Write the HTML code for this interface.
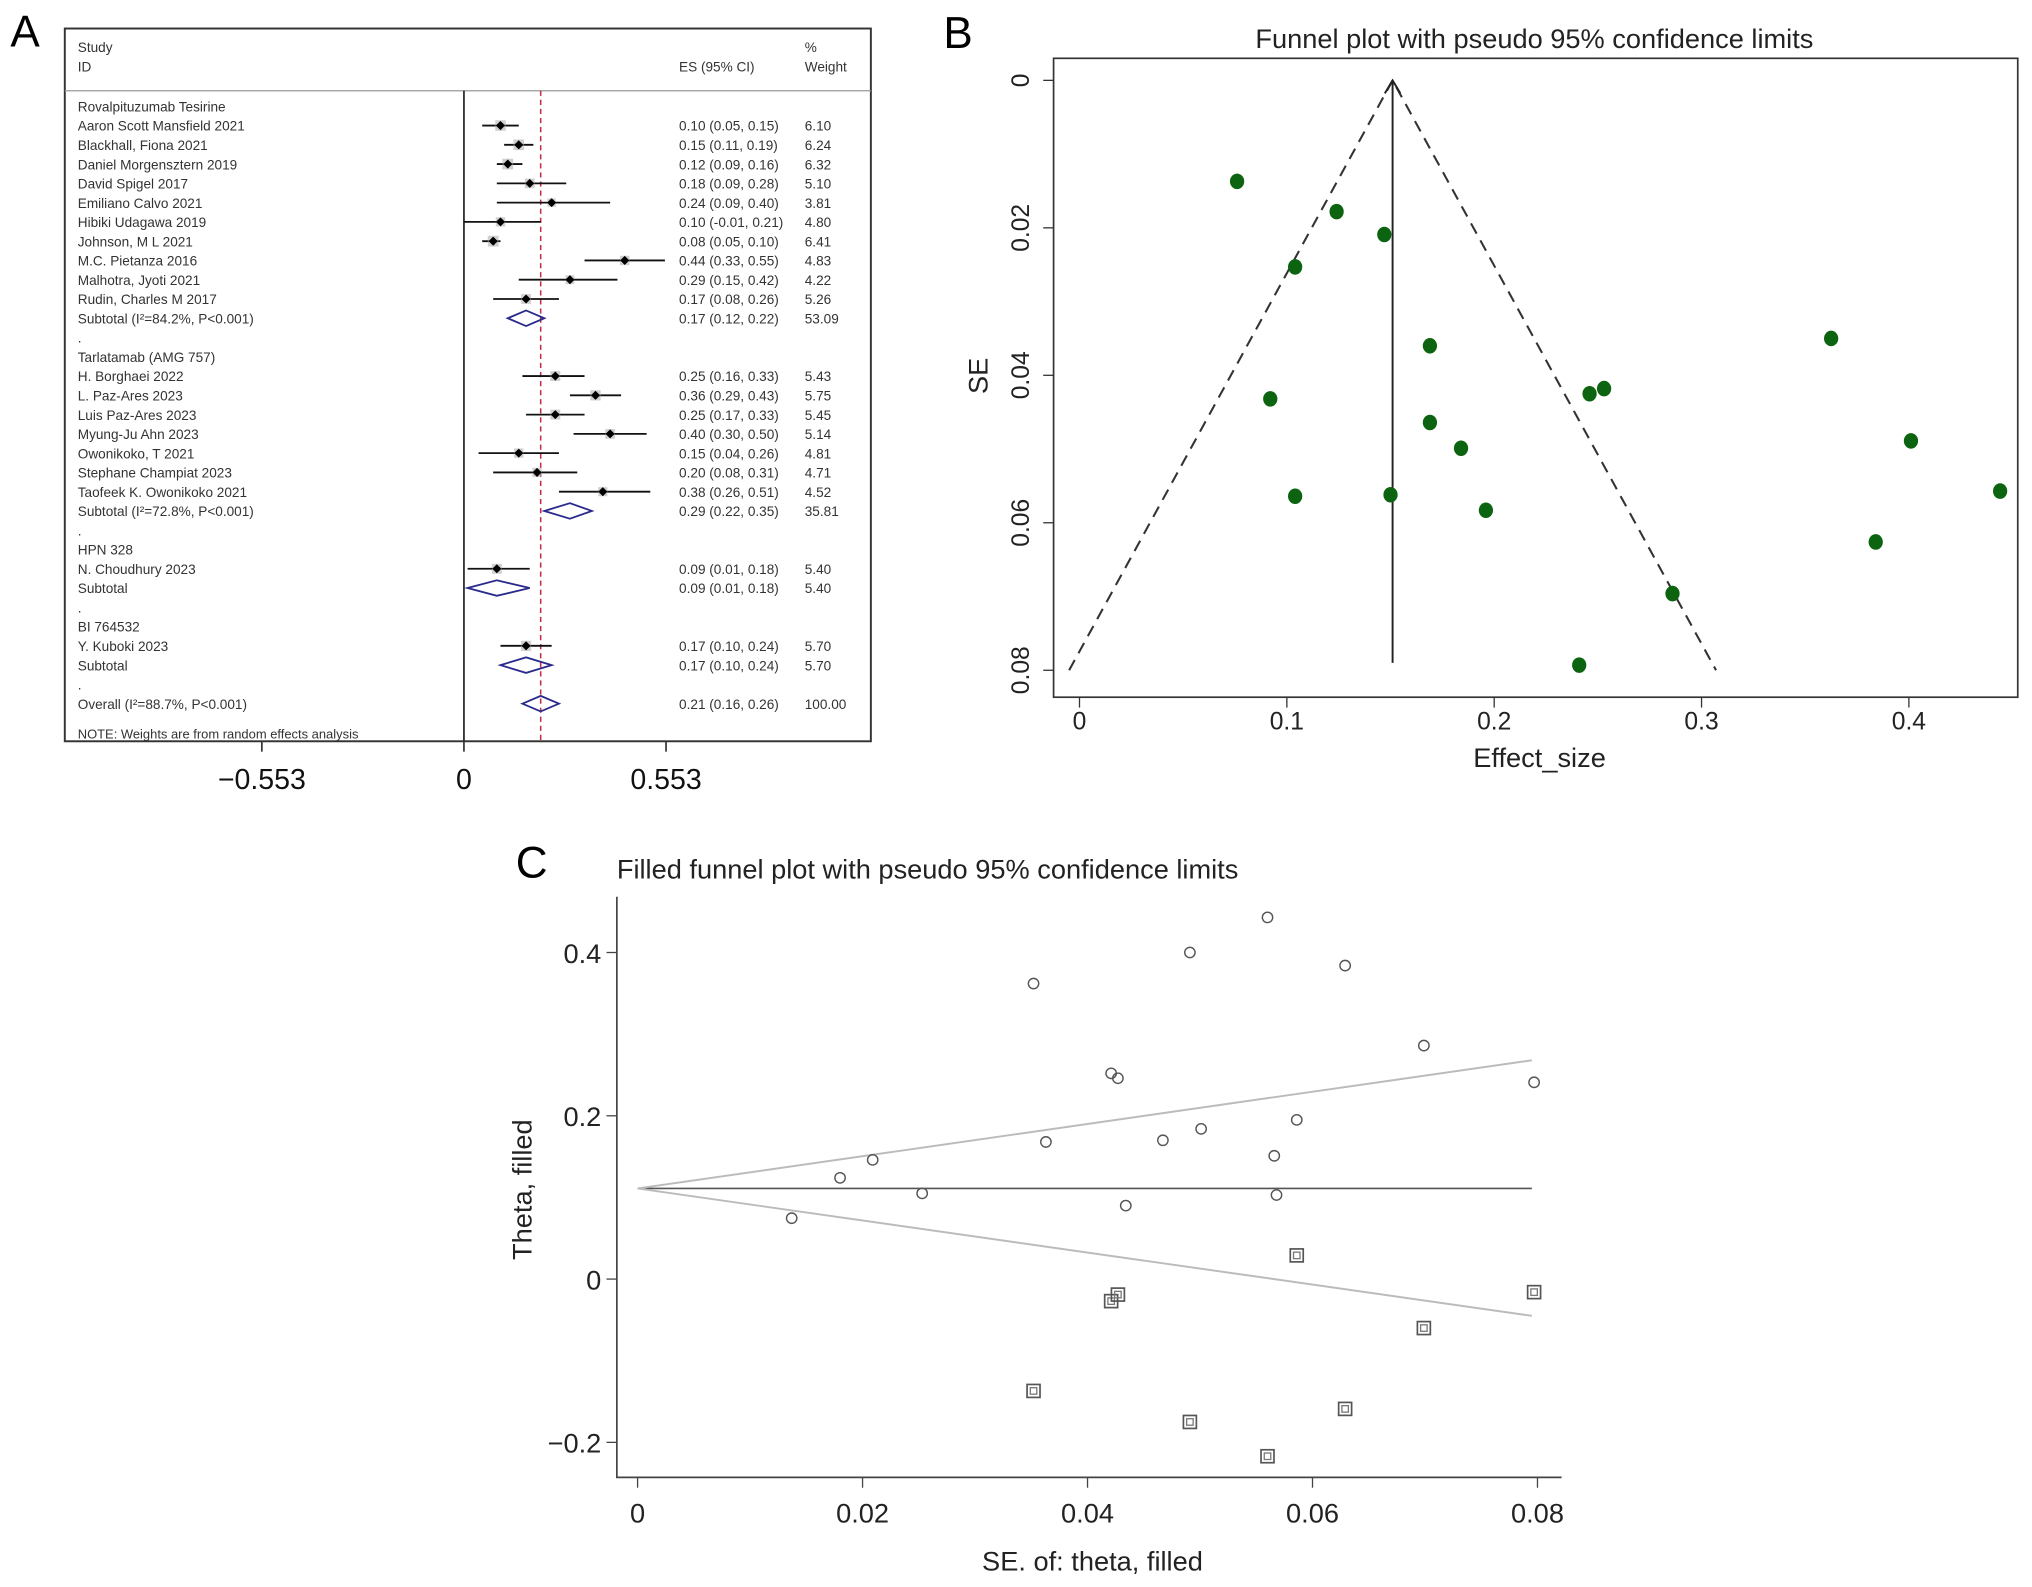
<!DOCTYPE html>
<html><head><meta charset="utf-8"><style>
html,body{margin:0;padding:0;background:#fff}
svg{display:block}
text{font-family:"Liberation Sans",sans-serif}
</style></head><body>
<svg id="fig" width="2032" height="1587" viewBox="0 0 1568 1224.6" xmlns="http://www.w3.org/2000/svg">
<g id="pa"></g>
<g id="pb"></g>
<g id="pc"></g>
</svg>
<script>
// ---------- Panel A data ----------
const rowLabels=["Rovalpituzumab Tesirine","Aaron Scott Mansfield 2021","Blackhall, Fiona 2021","Daniel Morgensztern 2019","David Spigel 2017","Emiliano Calvo 2021","Hibiki Udagawa 2019","Johnson, M L 2021","M.C. Pietanza 2016","Malhotra, Jyoti 2021","Rudin, Charles M 2017","Subtotal  (I\u00B2=84.2%, P<0.001)",".","Tarlatamab (AMG 757)","H. Borghaei 2022","L. Paz-Ares 2023","Luis Paz-Ares 2023","Myung-Ju Ahn 2023","Owonikoko, T 2021","Stephane Champiat 2023","Taofeek K. Owonikoko 2021","Subtotal  (I\u00B2=72.8%, P<0.001)",".","HPN 328","N. Choudhury 2023","Subtotal",".","BI 764532","Y. Kuboki 2023","Subtotal",".","Overall  (I\u00B2=88.7%, P<0.001)"];
const rowTypes=["h","s","s","s","s","s","s","s","s","s","s","d","b","h","s","s","s","s","s","s","s","d","b","h","s","d","b","h","s","d","b","d"];
const esVals=[null,0.10,0.15,0.12,0.18,0.24,0.10,0.08,0.44,0.29,0.17,0.17,null,null,0.25,0.36,0.25,0.40,0.15,0.20,0.38,0.29,null,null,0.09,0.09,null,null,0.17,0.17,null,0.21];
const loVals=[null,0.05,0.11,0.09,0.09,0.09,-0.01,0.05,0.33,0.15,0.08,0.12,null,null,0.16,0.29,0.17,0.30,0.04,0.08,0.26,0.22,null,null,0.01,0.01,null,null,0.10,0.10,null,0.16];
const hiVals=[null,0.15,0.19,0.16,0.28,0.40,0.21,0.10,0.55,0.42,0.26,0.22,null,null,0.33,0.43,0.33,0.50,0.26,0.31,0.51,0.35,null,null,0.18,0.18,null,null,0.24,0.24,null,0.26];
const weights=[null,6.10,6.24,6.32,5.10,3.81,4.80,6.41,4.83,4.22,5.26,53.09,null,null,5.43,5.75,5.45,5.14,4.81,4.71,4.52,35.81,null,null,5.40,5.40,null,null,5.70,5.70,null,100.00];
const forestTicks=[-0.553,0,0.553];
const pooledES=0.21;
// ---------- Panel B data ----------
const effectSize=[0.076,0.124,0.147,0.104,0.169,0.092,0.169,0.184,0.104,0.150,0.196,0.246,0.253,0.3625,0.401,0.444,0.384,0.286,0.241];
const seVals=[0.0137,0.0178,0.0209,0.0253,0.036,0.0432,0.0464,0.0499,0.0564,0.0562,0.0583,0.0425,0.0418,0.035,0.0489,0.0557,0.0626,0.0696,0.0793];
const bXTicks=[0,0.1,0.2,0.3,0.4];
const bYTicks=[0,0.02,0.04,0.06,0.08];
const bCenter=0.151;
// ---------- Panel C data ----------
const obsSE=[0.0137,0.018,0.0209,0.0253,0.0352,0.0363,0.0421,0.0427,0.0434,0.0467,0.0491,0.0501,0.056,0.0566,0.0568,0.0586,0.0629,0.0699,0.0797];
const obsTheta=[0.0746,0.124,0.146,0.105,0.362,0.168,0.252,0.246,0.090,0.170,0.400,0.184,0.443,0.151,0.103,0.195,0.384,0.286,0.241];
const fillSE=[0.0352,0.0421,0.0427,0.0491,0.056,0.0586,0.0629,0.0699,0.0797];
const fillTheta=[-0.137,-0.027,-0.019,-0.175,-0.217,0.029,-0.159,-0.060,-0.016];
const cXTicks=[0,0.02,0.04,0.06,0.08];
const cYTicks=[0.4,0.2,0,-0.2];
const cTheta=0.111;
const cUpperEnd=0.268, cLowerEnd=-0.045, cSEmax=0.0795;

const NS="http://www.w3.org/2000/svg";
function mk(parent,tag,attrs,txt){const e=document.createElementNS(NS,tag);for(const k in attrs)e.setAttribute(k,attrs[k]);if(txt!==undefined)e.textContent=txt;parent.appendChild(e);return e;}

// ===== Panel A =====
const pa=document.getElementById('pa');
const fx=v=>358+v*282;
const fy=i=>82+i*14.87;
let t;
t=mk(pa,'text',{x:8,y:36,'font-size':34});t.textContent='A';


let r=mk(pa,'rect',{x:50,y:22,width:622,height:550,fill:'none',stroke:'#333','stroke-width':1.5});


mk(pa,'line',{x1:50,x2:672,y1:70,y2:70,stroke:'#999','stroke-width':1});
const hdr=[[60,40,'Study'],[60,55,'ID'],[524,55,'ES (95% CI)'],[621,40,'%'],[621,55,'Weight']];
hdr.forEach(h=>{const e=mk(pa,'text',{x:h[0],y:h[1],'font-size':10.5,fill:'#333'},h[2]);

});
// zero line and pooled dashed line
let zl=mk(pa,'line',{x1:fx(0),x2:fx(0),y1:70,y2:572,stroke:'#222','stroke-width':1.3});


let pl=mk(pa,'line',{x1:fx(pooledES),x2:fx(pooledES),y1:70,y2:572,stroke:'#c0304a','stroke-width':1.2,'stroke-dasharray':'4,3'});


rowLabels.forEach((lab,i)=>{
  const y=fy(i);
  const e=mk(pa,'text',{x:60,y:y+4,'font-size':10.5,fill:'#333'},lab);
  
  
  const tp=rowTypes[i];
  if(tp==='s'||tp==='d'){
    const es=esVals[i],lo=loVals[i],hi=hiVals[i];
    const ci=mk(pa,'text',{x:524,y:y+4,'font-size':10.5,fill:'#333'},es.toFixed(2)+' ('+lo.toFixed(2)+', '+hi.toFixed(2)+')');
    
    
    const w=mk(pa,'text',{x:621,y:y+4,'font-size':10.5,fill:'#333'},weights[i].toFixed(2));
    
    
  }
  if(tp==='s'){
    const es=esVals[i],lo=loVals[i],hi=hiVals[i];
    const g=mk(pa,'g',{});
    
    
    mk(g,'line',{x1:fx(Math.max(lo,-0.001)),x2:fx(hi),y1:y,y2:y,stroke:'#111','stroke-width':1.4});
    const s=Math.sqrt(weights[i])*3.3;
    mk(g,'rect',{x:fx(es)-s/2,y:y-s/2,width:s,height:s,fill:'#aaa',opacity:0.55});
    mk(g,'path',{d:`M${fx(es)-3.5},${y}L${fx(es)},${y-3.5}L${fx(es)+3.5},${y}L${fx(es)},${y+3.5}Z`,fill:'#000'});
  }
  if(tp==='d'){
    const es=esVals[i],lo=loVals[i],hi=hiVals[i];
    const d=mk(pa,'path',{d:`M${fx(lo)},${y}L${fx(es)},${y-6}L${fx(hi)},${y}L${fx(es)},${y+6}Z`,fill:'none',stroke:'#2a2a8c','stroke-width':1.4});
    
    
  }
});
let note=mk(pa,'text',{x:60,y:570,'font-size':10,fill:'#333'},'NOTE: Weights are from random effects analysis');


forestTicks.forEach(v=>{
  mk(pa,'line',{x1:fx(v),x2:fx(v),y1:572,y2:580,stroke:'#333','stroke-width':1.3});
  const e=mk(pa,'text',{x:fx(v),y:609,'font-size':22,'text-anchor':'middle',fill:'#111'},v===0?'0':(v<0?'\u2212':'')+Math.abs(v).toFixed(3));
  
  
});

// ===== Panel B =====
const pb=document.getElementById('pb');
const bx=v=>833+v*1600;
const by=v=>62+v*5690;
t=mk(pb,'text',{x:728,y:37,'font-size':34},'B');


t=mk(pb,'text',{x:1184,y:37,'font-size':21,'text-anchor':'middle',fill:'#222'},'Funnel plot with pseudo 95% confidence limits');


r=mk(pb,'rect',{x:813,y:45,width:744,height:493,fill:'none',stroke:'#333','stroke-width':1.3});


bXTicks.forEach(v=>{mk(pb,'line',{x1:bx(v),x2:bx(v),y1:538,y2:546,stroke:'#333'});
  const e=mk(pb,'text',{x:bx(v),y:563,'font-size':19,'text-anchor':'middle',fill:'#222'},String(v));
  
  });
bYTicks.forEach(v=>{mk(pb,'line',{x1:805,x2:813,y1:by(v),y2:by(v),stroke:'#333'});
  const e=mk(pb,'text',{x:0,y:0,'font-size':19,'text-anchor':'middle',fill:'#222',transform:`translate(794,${by(v)}) rotate(-90)`},String(v));
  
  });
t=mk(pb,'text',{x:1188,y:592,'font-size':21,'text-anchor':'middle',fill:'#222'},'Effect_size');


t=mk(pb,'text',{x:0,y:0,'font-size':21,'text-anchor':'middle',fill:'#222',transform:'translate(762,290) rotate(-90)'},'SE');


let fl=mk(pb,'path',{d:`M${bx(-0.005)},${by(0.08)}L${bx(bCenter)},${by(0)}L${bx(0.307)},${by(0.08)}`,fill:'none',stroke:'#333','stroke-width':1.6,'stroke-dasharray':'9,6'});


let cl=mk(pb,'g',{});


mk(cl,'line',{x1:bx(bCenter),x2:bx(bCenter),y1:by(0),y2:by(0.079),stroke:'#222','stroke-width':1.5});
mk(cl,'path',{d:`M${bx(bCenter)-6},${by(0)+10}L${bx(bCenter)},${by(0)}L${bx(bCenter)+6},${by(0)+10}`,fill:'none',stroke:'#222','stroke-width':1.5});
effectSize.forEach((v,i)=>{
  const c=mk(pb,'ellipse',{cx:bx(v),cy:by(seVals[i]),rx:5.5,ry:6,fill:'#0d6410'});
  
  
});

// ===== Panel C =====
const pc=document.getElementById('pc');
const cx=v=>492+v*8680;
const cy=v=>987-v*630;
t=mk(pc,'text',{x:398,y:677,'font-size':34},'C');


t=mk(pc,'text',{x:476,y:678,'font-size':21,fill:'#222'},'Filled funnel plot with pseudo 95% confidence limits');


let ax=mk(pc,'path',{d:'M476,692L476,1140L1205,1140',fill:'none',stroke:'#444','stroke-width':1.3});


cXTicks.forEach(v=>{mk(pc,'line',{x1:cx(v),x2:cx(v),y1:1140,y2:1148,stroke:'#444'});
  const e=mk(pc,'text',{x:cx(v),y:1175,'font-size':21,'text-anchor':'middle',fill:'#222'},String(v));
  
  });
cYTicks.forEach(v=>{mk(pc,'line',{x1:468,x2:476,y1:cy(v),y2:cy(v),stroke:'#444'});
  const e=mk(pc,'text',{x:464,y:cy(v)+8,'font-size':21,'text-anchor':'end',fill:'#222'},v<0?'\u2212'+Math.abs(v):String(v));
  
  });
t=mk(pc,'text',{x:843,y:1212,'font-size':21,'text-anchor':'middle',fill:'#222'},'SE. of: theta, filled');


t=mk(pc,'text',{x:0,y:0,'font-size':21,'text-anchor':'middle',fill:'#222',transform:'translate(410,918) rotate(-90)'},'Theta, filled');


let hl=mk(pc,'line',{x1:cx(0),x2:cx(cSEmax),y1:cy(cTheta),y2:cy(cTheta),stroke:'#555','stroke-width':1.3});


let ul=mk(pc,'line',{x1:cx(0),x2:cx(cSEmax),y1:cy(cTheta),y2:cy(cUpperEnd),stroke:'#bbb','stroke-width':1.5});


let ll=mk(pc,'line',{x1:cx(0),x2:cx(cSEmax),y1:cy(cTheta),y2:cy(cLowerEnd),stroke:'#bbb','stroke-width':1.5});


obsSE.forEach((v,i)=>{
  const c=mk(pc,'circle',{cx:cx(v),cy:cy(obsTheta[i]),r:4,fill:'none',stroke:'#555','stroke-width':1.1});
  
  
});
fillSE.forEach((v,i)=>{
  const g=mk(pc,'g',{});
  
  
  mk(g,'rect',{x:cx(v)-5,y:cy(fillTheta[i])-5,width:10,height:10,fill:'none',stroke:'#555','stroke-width':1.3});
  mk(g,'rect',{x:cx(v)-2.5,y:cy(fillTheta[i])-2.5,width:5,height:5,fill:'none',stroke:'#777','stroke-width':1});
});
</script>
</body></html>
